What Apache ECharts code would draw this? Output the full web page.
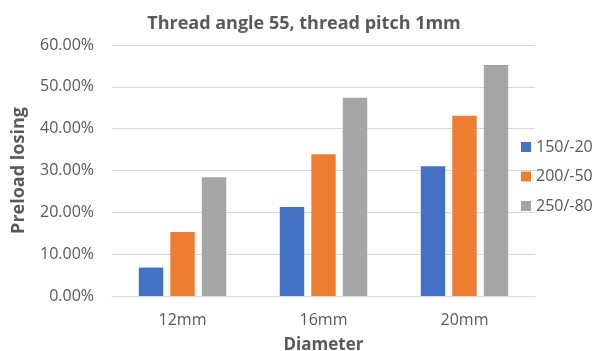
<!DOCTYPE html>
<html><head><meta charset="utf-8">
<script src="https://cdn.jsdelivr.net/npm/echarts@6/dist/echarts.min.js"></script>
<style>html,body{margin:0;padding:0;background:#fff}#c{width:597px;height:351px}</style>
</head><body><div id="c"></div>
<script>
const categories = ['12mm', '16mm', '20mm'];
const seriesNames = ['150/-20', '200/-50', '250/-80'];
const s150 = [0.068, 0.213, 0.310];
const s200 = [0.153, 0.339, 0.431];
const s250 = [0.284, 0.474, 0.552];
const yTicks = [0, 0.1, 0.2, 0.3, 0.4, 0.5, 0.6];
const colors = ['#4472c4', '#ed7d31', '#a5a5a5'];
const font = '"Open Sans", Lato, sans-serif';
const txt = '#595959';
const chart = echarts.init(document.getElementById('c'), null, {renderer: 'canvas'});
const vals = [s150, s200, s250];
chart.setOption({
  animation: false,
  title: {text: 'Thread angle 55, thread pitch 1mm', left: 299, top: 10, textAlign: 'center',
    textStyle: {fontFamily: font, fontSize: 18, fontWeight: 'bold', color: txt}},
  legend: {orient: 'vertical', left: 516, top: 134, itemWidth: 10, itemHeight: 10, itemGap: 13.5,
    icon: 'rect', textStyle: {fontFamily: font, fontSize: 16, color: txt, lineHeight: 16},
    data: seriesNames},
  grid: {left: 112, right: 62, top: 45, bottom: 55, containLabel: false, outerBoundsMode: 'none'},
  xAxis: {type: 'category', data: categories, name: 'Diameter', nameLocation: 'middle', nameGap: 41,
    nameTextStyle: {fontFamily: font, fontSize: 17, fontWeight: 'bold', color: txt},
    axisLine: {lineStyle: {color: '#d9d9d9', width: 1}}, axisTick: {show: false},
    axisLabel: {fontFamily: font, fontSize: 16, color: txt, margin: 16}},
  yAxis: {type: 'value', min: yTicks[0], max: yTicks[yTicks.length-1], interval: 0.1,
    name: 'Preload losing', nameLocation: 'middle', nameGap: 84,
    nameTextStyle: {fontFamily: font, fontSize: 18, fontWeight: 'bold', color: txt},
    axisLine: {show: false}, axisTick: {show: false},
    splitLine: {lineStyle: {color: '#d9d9d9', width: 1}},
    axisLabel: {fontFamily: font, fontSize: 16, color: txt, margin: 18,
      formatter: v => (v * 100).toFixed(2) + '%'}},
  series: seriesNames.map((n, i) => ({
    name: n, type: 'bar', data: vals[i], barGap: '29%', barCategoryGap: '38%',
    itemStyle: {color: colors[i]}
  }))
});
</script></body></html>
